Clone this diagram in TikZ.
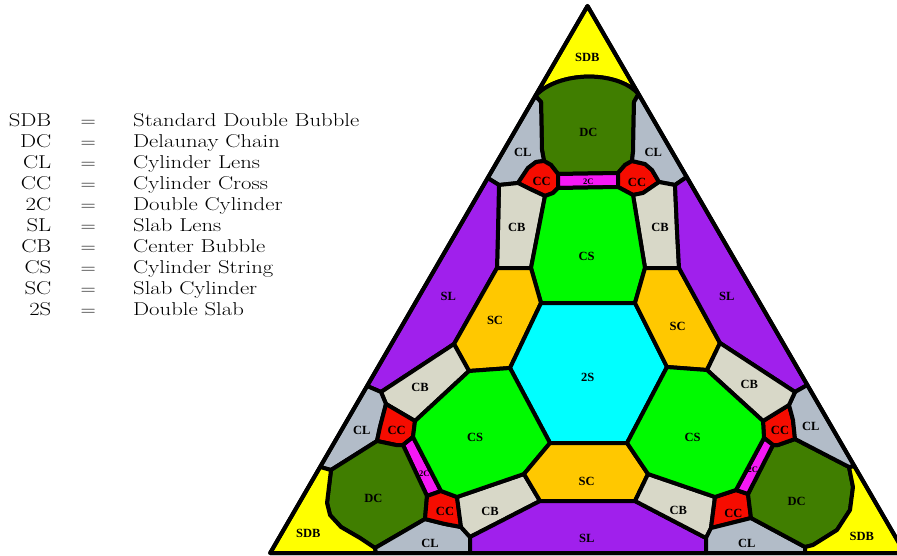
\documentclass[tikz,border=0pt]{standalone}
\usepackage{fontspec}
\usepackage{graphicx}
\newfontfamily\labfont{Liberation Serif}
\definecolor{csdb}{RGB}{255,255,0}
\definecolor{cdc}{RGB}{64,126,0}
\definecolor{ccl}{RGB}{178,188,200}
\definecolor{ccc}{RGB}{246,12,0}
\definecolor{ctc}{RGB}{244,24,244}
\definecolor{ccb}{RGB}{216,216,200}
\definecolor{ccs}{RGB}{0,250,0}
\definecolor{csl}{RGB}{160,32,236}
\definecolor{csc}{RGB}{255,200,0}
\definecolor{cts}{RGB}{0,255,255}
\tikzset{
  region/.style={draw=black, line width=4pt, line join=round},
  lab/.style={font=\labfont\bfseries\fontsize{12.5}{13}\selectfont, inner sep=0pt},
  smalllab/.style={font=\labfont\bfseries\fontsize{8.5}{9}\selectfont, inner sep=0pt},
  leg/.style={font=\fontsize{18.6}{22}\selectfont, inner sep=0pt},
}
\begin{document}
\begin{tikzpicture}[x=1pt,y=-1pt]
\useasboundingbox (0,0) rectangle (897,556);
% junction points
\coordinate (A) at (587.5,6);
\coordinate (BL) at (270.2,553);
\coordinate (BR) at (904.8,553);
\coordinate (J1) at (535.3,96);
\coordinate (J2) at (638.5,94);
\coordinate (J3) at (544,161);
\coordinate (J4) at (632,161);
\coordinate (J5) at (558,174);
\coordinate (J6) at (618,173);
\coordinate (J7) at (558,188);
\coordinate (J8) at (618,187);
\coordinate (J9) at (518,183);
\coordinate (J10) at (499,185);
\coordinate (J11) at (487.7,178);
\coordinate (J12) at (545,196);
\coordinate (J13) at (531,268);
\coordinate (J14) at (497,268);
\coordinate (J15) at (541,303);
\coordinate (J16) at (510,368);
\coordinate (J17) at (469,371);
\coordinate (J18) at (454,344);
\coordinate (J20) at (381,392);
\coordinate (J20e) at (367.1,386);
\coordinate (J21) at (659,182);
\coordinate (J22) at (675,185);
\coordinate (J23) at (686.7,177);
\coordinate (J24) at (633,195);
\coordinate (J25) at (679,268);
\coordinate (J26) at (645,268);
\coordinate (J27) at (720,343);
\coordinate (J28) at (707,370);
\coordinate (J29) at (667,367);
\coordinate (J30) at (635,303);
\coordinate (J31e) at (807.3,385);
\coordinate (J32) at (415,421);
\coordinate (J33) at (386,404);
\coordinate (J34) at (413,437);
\coordinate (J35) at (403,445);
\coordinate (J36) at (377,441);
\coordinate (J37) at (331,470);
\coordinate (J38) at (320.1,467);
\coordinate (J39) at (375,548);
\coordinate (J39e) at (376,553);
\coordinate (J40) at (427,496);
\coordinate (J41) at (425,519);
\coordinate (J42) at (441,491);
\coordinate (J43) at (457,497);
\coordinate (J44) at (461,527);
\coordinate (J46) at (470,537);
\coordinate (J46e) at (470,553);
\coordinate (J47) at (524,474);
\coordinate (J48) at (540,501);
\coordinate (J49) at (550,443);
\coordinate (J50) at (627,443);
\coordinate (J51) at (648,474);
\coordinate (J52) at (635,501);
\coordinate (J53) at (706,538);
\coordinate (J53e) at (706,553);
\coordinate (J54) at (715,497);
\coordinate (J55) at (711,528);
\coordinate (J56) at (795,392);
\coordinate (J57) at (789,405);
\coordinate (J58) at (763,421);
\coordinate (J59) at (795,439);
\coordinate (J60) at (773,445);
\coordinate (J61) at (764,438);
\coordinate (J62) at (748,494);
\coordinate (J63) at (736,490);
\coordinate (J64) at (751,518);
\coordinate (J65) at (849,467);
\coordinate (J65e) at (854.3,466);
\coordinate (J66) at (805,547);
\coordinate (J66e) at (805,553);
\begin{scope}
\clip (0,0) rectangle (897,556);
% top sector
\path[region,fill=csdb] (A) -- (J1) .. controls (558,71) and (617,70) .. (J2) -- cycle;
\path[region,fill=cdc] (J1) .. controls (558,71) and (617,70) .. (J2) -- (634,102) -- (633,152) -- (J4) -- (625,165) -- (J6) -- (J5) -- (551,165) -- (J3) -- (542,150) -- (541,102) -- cycle;
\path[region,fill=ccl] (J1) -- (541,102) -- (542,150) -- (J3) -- (536,162) -- (528,168) -- (J9) -- (J10) -- (J11) -- cycle;
\path[region,fill=ccc] (J3) -- (551,165) -- (J5) -- (J7) -- (553,193) -- (J12) -- (530,189) -- (J9) -- (528,168) -- (536,162) -- cycle;
\path[region,fill=ctc] (J5) -- (J6) -- (J8) -- (J7) -- cycle;
\path[region,fill=ccc] (J6) -- (625,165) -- (J4) -- (645,164) -- (652,170) -- (J21) -- (643,193) -- (J24) -- (J8) -- cycle;
\path[region,fill=ccl] (J2) -- (J23) -- (J22) -- (J21) -- (652,170) -- (645,164) -- (J4) -- (633,152) -- (634,102) -- cycle;
\path[region,fill=ccb] (J10) -- (J9) -- (530,189) -- (J12) -- (J13) -- (J14) -- (498,230) -- cycle;
\path[region,fill=ccb] (J24) -- (643,193) -- (J21) -- (J22) -- (677,230) -- (J25) -- (J26) -- cycle;
\path[region,fill=ccs] (J12) -- (553,193) -- (J7) -- (J8) -- (J24) -- (J26) -- (J30) -- (J15) -- (J13) -- cycle;
\path[region,fill=csl] (J11) -- (J10) -- (498,230) -- (J14) -- (J18) -- (J20) -- (J20e) -- cycle;
\path[region,fill=csc] (J14) -- (J13) -- (J15) -- (J16) -- (J17) -- (J18) -- cycle;
\path[region,fill=cts] (J15) -- (J30) -- (J29) -- (J50) -- (J49) -- (J16) -- cycle;
\path[region,fill=csc] (J26) -- (J25) -- (J27) -- (J28) -- (J29) -- (J30) -- cycle;
\path[region,fill=csl] (J23) -- (J22) -- (677,230) -- (J25) -- (J27) -- (J56) -- (J31e) -- cycle;
% lower-left sector
\path[region,fill=ccb] (J20) -- (J18) -- (J17) -- (J32) -- (J33) -- cycle;
\path[region,fill=ccl] (J20e) -- (J20) -- (J33) -- (380,427) -- (J36) -- (J37) -- (J38) -- cycle;
\path[region,fill=ccc] (J33) -- (J32) -- (J34) -- (J35) -- (396,445) -- (J36) -- (380,427) -- cycle;
\path[region,fill=ctc] (J34) -- (J35) -- (J40) -- (J42) -- cycle;
\path[region,fill=cdc] (J37) -- (J36) -- (396,445) -- (J35) -- (J40) -- (J41) -- (J39) -- (360,538) -- (341,527) -- (330,515) -- (327,503) -- cycle;
\path[region,fill=csdb] (J38) -- (J37) -- (327,503) -- (330,515) -- (341,527) -- (360,538) -- (J39) -- (J39e) -- (BL) -- cycle;
\path[region,fill=ccl] (J39) -- (J41) -- (445,524) -- (J44) -- (J46) -- (J46e) -- (J39e) -- cycle;
\path[region,fill=ccc] (J40) -- (J42) -- (J43) -- (J44) -- (445,524) -- (J41) -- cycle;
\path[region,fill=ccb] (J43) -- (J47) -- (J48) -- (J46) -- (J44) -- cycle;
\path[region,fill=ccs] (J17) -- (J16) -- (J49) -- (J47) -- (J43) -- (J42) -- (J34) -- (J32) -- cycle;
% bottom
\path[region,fill=csc] (J49) -- (J50) -- (J51) -- (J52) -- (J48) -- (J47) -- cycle;
\path[region,fill=csl] (J48) -- (J52) -- (J53) -- (J53e) -- (J46e) -- (J46) -- cycle;
% lower-right sector
\path[region,fill=ccb] (J51) -- (J54) -- (J55) -- (J53) -- (J52) -- cycle;
\path[region,fill=ccc] (J54) -- (J63) -- (J62) -- (J64) -- (723,525) -- (J55) -- cycle;
\path[region,fill=ccl] (J53) -- (J55) -- (723,525) -- (J64) -- (J66) -- (J66e) -- (J53e) -- cycle;
\path[region,fill=cdc] (J60) -- (778,445) -- (J59) -- (J65) -- (853,487) -- (850,510) -- (837,530) -- (813,545) -- (J66) -- (J64) -- (J62) -- cycle;
\path[region,fill=csdb] (J65e) -- (J65) -- (853,487) -- (850,510) -- (837,530) -- (813,545) -- (J66) -- (J66e) -- (BR) -- cycle;
\path[region,fill=ccc] (J58) -- (J57) -- (793,420) -- (J59) -- (778,445) -- (J60) -- (J61) -- cycle;
\path[region,fill=ctc] (J61) -- (J60) -- (J62) -- (J63) -- cycle;
\path[region,fill=ccl] (J31e) -- (J56) -- (J57) -- (793,420) -- (J59) -- (J65) -- (J65e) -- cycle;
\path[region,fill=ccb] (J28) -- (J27) -- (J56) -- (J57) -- (J58) -- cycle;
\path[region,fill=ccs] (J28) -- (J29) -- (J50) -- (J51) -- (J54) -- (J63) -- (J61) -- (J58) -- cycle;
% outline
\draw[line width=4pt, line join=round] (A) -- (BL) -- (BR) -- cycle;
\end{scope}
% labels
\node[lab] (tSDB) at (587.3,57.3) {SDB};
\node[lab] (tDC) at (588.3,132.7) {DC};
\node[lab] (tCLa) at (522.7,152.7) {CL};
\node[lab] (tCLb) at (653.3,152.7) {CL};
\node[lab] (tCCa) at (541.7,181.7) {CC};
\node[lab] (tCCb) at (637,182) {CC};
\node[smalllab] (t2Ca) at (588.3,181.5) {2C};
\node[lab] (tCBa) at (516.7,227.3) {CB};
\node[lab] (tCBb) at (660,227.3) {CB};
\node[lab] (tCSa) at (586.7,256) {CS};
\node[lab] (tSLa) at (448.3,296.7) {SL};
\node[lab] (tSLb) at (726.7,296.7) {SL};
\node[lab] (tSCa) at (495,320.7) {SC};
\node[lab] (tSCb) at (677.7,326) {SC};
\node[lab] (t2S) at (587.7,377.3) {2S};
\node[lab] (tCBc) at (420,387.3) {CB};
\node[lab] (tCBd) at (749.3,384) {CB};
\node[lab] (tCLc) at (361.7,430) {CL};
\node[lab] (tCCc) at (396.7,430) {CC};
\node[lab] (tCSb) at (475,437) {CS};
\node[lab] (tCSc) at (692.7,437.3) {CS};
\node[lab] (tCCd) at (780,430.7) {CC};
\node[lab] (tCLd) at (810.7,426) {CL};
\node[smalllab] (t2Cb) at (424.3,473.3) {2C};
\node[smalllab] (t2Cc) at (752.7,470) {2C};
\node[lab] (tDCb) at (373.3,498.3) {DC};
\node[lab] (tDCc) at (796.7,501.7) {DC};
\node[lab] (tSCc) at (586.7,481.7) {SC};
\node[lab] (tCCe) at (445,511.7) {CC};
\node[lab] (tCBe) at (490,511) {CB};
\node[lab] (tCBf) at (678.3,510.7) {CB};
\node[lab] (tCCf) at (733.3,513.3) {CC};
\node[lab] (tSDBb) at (308.3,533.3) {SDB};
\node[lab] (tSDBc) at (861.7,536.7) {SDB};
\node[lab] (tCLe) at (430,543.5) {CL};
\node[lab] (tCLf) at (746.7,543) {CL};
\node[lab] (tSLc) at (586.7,538.3) {SL};
% legend
\foreach \ab/\de [count=\i] in {SDB/Standard Double Bubble, DC/Delaunay Chain, CL/Cylinder Lens, CC/Cylinder Cross, 2C/Double Cylinder, SL/Slab Lens, CB/Center Bubble, CS/Cylinder String, SC/Slab Cylinder, 2S/Double Slab}{
  \node[leg, anchor=base east] (la\i) at (51.5,{126.5+21.05*(\i-1)}) {\scalebox{1.22}[1]{\ab}};
  \node[leg, anchor=base] (le\i) at (88.3,{126.5+21.05*(\i-1)}) {\scalebox{1.22}[1]{$=$}};
  \node[leg, anchor=base west] (ld\i) at (133,{126.5+21.05*(\i-1)}) {\scalebox{1.22}[1]{\de}};
}
\end{tikzpicture}
\end{document}
